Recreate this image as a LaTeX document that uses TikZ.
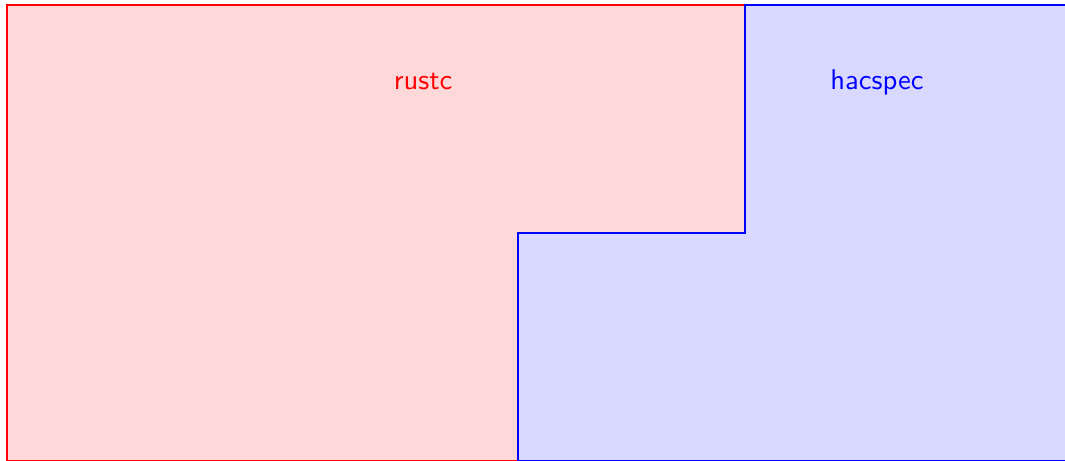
\documentclass[tikz,border=0pt]{standalone}
\usepackage{tikz}
\usetikzlibrary{positioning}

\tikzset{
  region/.style={line width=0.8pt},
  label/.style={font=\sffamily}
}

\begin{document}
\begin{tikzpicture}[x=0.35pt, y=0.35pt]
  \useasboundingbox (0,0) rectangle (1065,460);
  % rustc region
  \draw[region, red, fill=red!15] (7,-1) rectangle (745,455);
  % hacspec region
  \draw[region, blue, fill=blue!15] (518,-1) -- (518,227) -- (745,227)
    -- (745,455) -- (1080,455) -- (1080,-1) -- cycle;
  % names
  \node[label, red] (rustc) at (423,378) {rustc};
  \node[label, blue] (hacspec) at (877,378) {hacspec};
\end{tikzpicture}
\end{document}
